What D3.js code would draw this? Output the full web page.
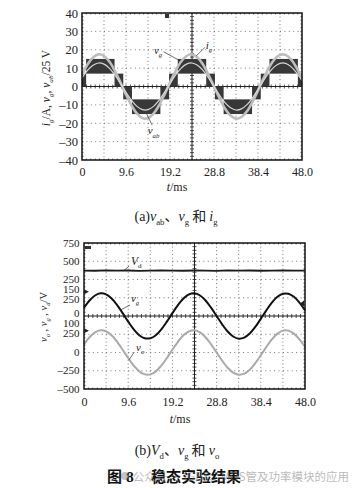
<!DOCTYPE html>
<html>
<head>
<meta charset="utf-8">
<script src="https://cdn.jsdelivr.net/npm/d3@7"></script>
<style>
  body { margin: 0; background: #fff; }
  svg { display: block; font-family: "Liberation Serif", "DejaVu Serif", serif; }
</style>
</head>
<body>
<div id="chart"></div>
<script>
const timeTicks = [0, 9.6, 19.2, 28.8, 38.4, 48.0];
const topYTicks = [40, 30, 20, 10, 0, -10, -20, -30, -40];

// sample step 1.2 ms, 0 .. 48 ms
const igVals = [6.4, 12.0, 15.8, 17.5, 16.6, 13.5, 8.4, 2.2, -4.4, -10.3, -14.8, -17.2, -17.2, -14.8, -10.3, -4.4, 2.2, 8.4, 13.5, 16.6, 17.5,
  15.8, 12.0, 6.4, 0, -6.4, -12.0, -15.8, -17.5, -16.6, -13.5, -8.4, -2.2, 4.4, 10.3, 14.8, 17.2, 17.2, 14.8, 10.3, 4.4];
const vgScaledVals = [4.7, 8.8, 11.6, 12.8, 12.2, 9.9, 6.2, 1.6, -3.2, -7.5, -10.8, -12.6, -12.6, -10.8, -7.5, -3.2, 1.6, 6.2, 9.9, 12.2, 12.8,
  11.6, 8.8, 4.7, 0, -4.7, -8.8, -11.6, -12.8, -12.2, -9.9, -6.2, -1.6, 3.2, 7.5, 10.8, 12.6, 12.6, 10.8, 7.5, 3.2];

// v_ab : switching bands (ms, and level range in the /25 V scale)
const vabStart = [0, 0.9, 7.1, 9.0, 10.9, 17.1, 19.0, 20.9, 27.1, 29.0, 30.9, 37.1, 39.0, 40.9, 47.1];
const vabEnd   = [0.9, 7.1, 9.0, 10.9, 17.1, 19.0, 20.9, 27.1, 29.0, 30.9, 37.1, 39.0, 40.9, 47.1, 48];
const vabLow   = [0, 7, 0, -7, -15, -7, 0, 7, 0, -7, -15, -7, 0, 7, 0];
const vabHigh  = [7, 15, 7, 0, -7, 0, 7, 15, 7, 0, -7, 0, 7, 15, 7];

// bottom scope: V (step 1.2 ms)
const vgVals = [114, 213, 281, 310, 296, 240, 150, 39, -77, -183, -263, -305, -305, -263, -183, -77, 39, 150, 240, 296, 310,
  281, 213, 114, 0, -114, -213, -281, -310, -296, -240, -150, -39, 77, 183, 263, 305, 305, 263, 183, 77];
const voVals = [112, 209, 276, 304, 290, 235, 147, 38, -76, -179, -258, -300, -300, -258, -179, -76, 38, 147, 235, 290, 304,
  276, 209, 112, 0, -112, -209, -276, -304, -290, -235, -147, -38, 76, 179, 258, 300, 300, 258, 179, 76];
// V_d, step 2.4 ms
const vdVals = [372, 370, 374, 371, 373, 369, 372, 375, 371, 370, 373, 372, 368, 374, 371, 373, 370, 372, 375, 371, 372];

const vdTicks = [750, 500, 250];
const vgTicks = [250, 0];
const voTicks = [250, 0, -250, -500];

const W = 358, H = 488;
const svg = d3.select('#chart').append('svg').attr('width', W).attr('height', H);

const fmt = d => d < 0 ? '\u2013' + Math.abs(d) : String(d);

// rich text helper: parts = [[text, flags]] with flags i=italic, s=subscript, c=cjk
function rich(parent, x, y, parts, size, anchor) {
  const t = parent.append('text').attr('x', x).attr('y', y)
    .attr('font-size', size).attr('text-anchor', anchor || 'start').attr('fill', '#222');
  let off = 0;
  parts.forEach(([txt, f]) => {
    const sub = f.includes('s');
    const target = sub ? size * 0.3 : 0;
    const ts = t.append('tspan').text(txt).attr('dy', target - off);
    off = target;
    if (f.includes('i')) ts.attr('font-style', 'italic');
    if (sub) ts.attr('font-size', size * 0.62);
    if (f.includes('c')) ts.attr('font-family', '"Noto Sans CJK SC", sans-serif');
  });
  return t;
}

// oscilloscope grid: 10 x 8 divisions, dotted, solid centre axes with small ticks
function scopeGrid(g, x0, x1, y0, y1) {
  const dx = (x1 - x0) / 10, dy = (y1 - y0) / 8;
  const cx = x0 + 5 * dx, cy = y0 + 4 * dy;
  for (let i = 1; i < 10; i++) {
    if (i === 5) continue;
    g.append('line').attr('x1', x0 + i * dx).attr('x2', x0 + i * dx).attr('y1', y0).attr('y2', y1)
      .attr('stroke', '#555').attr('stroke-width', 0.8).attr('stroke-dasharray', '1,' + (dy / 5 - 1).toFixed(2));
  }
  for (let j = 1; j < 8; j++) {
    if (j === 4) continue;
    g.append('line').attr('x1', x0).attr('x2', x1).attr('y1', y0 + j * dy).attr('y2', y0 + j * dy)
      .attr('stroke', '#555').attr('stroke-width', 0.8).attr('stroke-dasharray', '1,' + (dx / 5 - 1).toFixed(2));
  }
  g.append('line').attr('x1', x0).attr('x2', x1).attr('y1', cy).attr('y2', cy).attr('stroke', '#222').attr('stroke-width', 1);
  g.append('line').attr('x1', cx).attr('x2', cx).attr('y1', y0).attr('y2', y1).attr('stroke', '#222').attr('stroke-width', 1);
  for (let i = 1; i < 50; i++) {
    const x = x0 + i * dx / 5;
    g.append('line').attr('x1', x).attr('x2', x).attr('y1', cy - 2).attr('y2', cy + 2).attr('stroke', '#222').attr('stroke-width', 0.8);
    g.append('line').attr('x1', x).attr('x2', x).attr('y1', y0).attr('y2', y0 + 1.5).attr('stroke', '#222').attr('stroke-width', 0.7);
    g.append('line').attr('x1', x).attr('x2', x).attr('y1', y1 - 1.5).attr('y2', y1).attr('stroke', '#222').attr('stroke-width', 0.7);
  }
  for (let j = 1; j < 40; j++) {
    const y = y0 + j * dy / 5;
    g.append('line').attr('x1', cx - 2).attr('x2', cx + 2).attr('y1', y).attr('y2', y).attr('stroke', '#222').attr('stroke-width', 0.8);
    g.append('line').attr('x1', x0).attr('x2', x0 + 1.5).attr('y1', y).attr('y2', y).attr('stroke', '#222').attr('stroke-width', 0.7);
    g.append('line').attr('x1', x1 - 1.5).attr('x2', x1).attr('y1', y).attr('y2', y).attr('stroke', '#222').attr('stroke-width', 0.7);
  }
}

function frame(g, x0, x1, y0, y1) {
  g.append('rect').attr('x', x0).attr('y', y0).attr('width', x1 - x0).attr('height', y1 - y0)
    .attr('fill', 'none').attr('stroke', '#111').attr('stroke-width', 1.5);
}

function leader(g, p, q) {
  g.append('line').attr('x1', p[0]).attr('y1', p[1]).attr('x2', q[0]).attr('y2', q[1])
    .attr('stroke', '#333').attr('stroke-width', 0.7);
}

// ================= (a) =================
const xTop = d3.scaleLinear().domain([0, 48]).range([82, 302]);
const yTop = d3.scaleLinear().domain([-40, 40]).range([160, 13]);
const gA = svg.append('g');

scopeGrid(gA, 82, 302, 13, 160);

// v_ab bands
gA.append('g').selectAll('rect').data(vabStart).join('rect')
  .attr('x', (d, i) => xTop(d))
  .attr('width', (d, i) => xTop(vabEnd[i]) - xTop(d))
  .attr('y', (d, i) => yTop(vabHigh[i]))
  .attr('height', (d, i) => yTop(vabLow[i]) - yTop(vabHigh[i]))
  .attr('fill', '#383838');

const lineTop = vals => d3.line()
  .x((d, i) => xTop(i * 1.2)).y(d => yTop(d)).curve(d3.curveCatmullRom)(vals);

gA.append('path').attr('d', lineTop(igVals)).attr('fill', 'none').attr('stroke', '#bdbdbd').attr('stroke-width', 2.6);
gA.append('path').attr('d', lineTop(vgScaledVals)).attr('fill', 'none').attr('stroke', '#d6d6d6').attr('stroke-width', 1.2);

frame(gA, 82, 302, 13, 160);
gA.append('rect').attr('x', 165).attr('y', 14).attr('width', 4).attr('height', 4).attr('fill', '#333');

// y axis
const axA = gA.append('g').attr('transform', 'translate(82,0)')
  .call(d3.axisLeft(yTop).tickValues(topYTicks).tickSize(0).tickPadding(4).tickFormat(fmt));
axA.select('.domain').remove();
axA.selectAll('text').attr('font-family', '"Liberation Serif", serif').attr('font-size', 12.5).attr('fill', '#222');

// x axis
const axAx = gA.append('g').attr('transform', 'translate(0,160)')
  .call(d3.axisBottom(xTop).tickValues(timeTicks).tickSize(0).tickPadding(7).tickFormat(d => d === 0 ? '0' : d.toFixed(1)));
axAx.select('.domain').remove();
axAx.selectAll('text').attr('font-family', '"Liberation Serif", serif').attr('font-size', 12).attr('fill', '#222');

rich(gA, 177, 191, [['t', 'i'], ['/ms', '']], 12, 'middle');

const labA = gA.append('g').attr('transform', 'translate(50,88) rotate(-90)');
rich(labA, 0, 0, [['i', 'i'], ['g', 'si'], ['/A, ', ''], ['v', 'i'], ['g', 'si'], [', ', ''], ['v', 'i'], ['ab', 'si'], ['/25 V', '']], 11.5, 'middle');

// annotations
rich(gA, xTop(16.6), yTop(17.8), [['v', 'i'], ['g', 'si']], 11, 'middle');
leader(gA, [xTop(17.8), yTop(18.9)], [xTop(21.1), yTop(14.4)]);
rich(gA, xTop(27.7), yTop(20.5), [['i', 'i'], ['g', 'si']], 11, 'middle');
leader(gA, [xTop(26.8), yTop(21.2)], [xTop(24.9), yTop(16.6)]);
rich(gA, xTop(15.6), yTop(-26), [['v', 'i'], ['ab', 'si']], 11, 'middle');
leader(gA, [xTop(15.3), yTop(-21)], [xTop(14.0), yTop(-14.4)]);

rich(svg, 176, 221, [['(a)', ''], ['v', 'i'], ['ab', 's'], ['、', 'c'], ['v', 'i'], ['g', 's'], [' 和 ', 'c'], ['i', 'i'], ['g', 's']], 14, 'middle');

// ================= (b) =================
const x0B = 84, x1B = 305, y0B = 243, y1B = 389;
const xBot = d3.scaleLinear().domain([0, 48]).range([x0B, x1B]);
// three channels, 250 V/div, different ground positions
const yVd = d3.scaleLinear().domain([-1250, 750]).range([y1B, y0B]);
const yVg = d3.scaleLinear().domain([-1000, 1000]).range([y1B, y0B]);
const yVo = d3.scaleLinear().domain([-500, 1500]).range([y1B, y0B]);
const gB = svg.append('g');

scopeGrid(gB, x0B, x1B, y0B, y1B);

gB.append('path')
  .attr('d', d3.line().x((d, i) => xBot(i * 2.4)).y(d => yVd(d))(vdVals))
  .attr('fill', 'none').attr('stroke', '#1a1a1a').attr('stroke-width', 1.8);
gB.append('path')
  .attr('d', d3.line().x((d, i) => xBot(i * 1.2)).y(d => yVg(d)).curve(d3.curveCatmullRom)(vgVals))
  .attr('fill', 'none').attr('stroke', '#111').attr('stroke-width', 2);
gB.append('path')
  .attr('d', d3.line().x((d, i) => xBot(i * 1.2)).y(d => yVo(d)).curve(d3.curveCatmullRom)(voVals))
  .attr('fill', 'none').attr('stroke', '#a9a9a9').attr('stroke-width', 2);

frame(gB, x0B, x1B, y0B, y1B);

// channel markers
gB.append('rect').attr('x', x0B + 1).attr('y', y0B + 3).attr('width', 6).attr('height', 3).attr('fill', '#333');
[yVg(333), yVo(299)].forEach(y => {
  gB.append('path').attr('d', `M${x0B},${y - 2.5}L${x0B + 5},${y}L${x0B},${y + 2.5}Z`).attr('fill', '#222');
});
gB.append('path').attr('d', `M${x1B - 1},${yVg(170) - 3}L${x1B - 5},${yVg(170)}L${x1B - 1},${yVg(170) + 3}Z`).attr('fill', '#222');

// y tick labels (stacked, as on the scope print)
const tickStyle = s => s.attr('font-size', 11).attr('text-anchor', 'end').attr('fill', '#222');
const tickText = (y, txt) => gB.append('text').attr('x', 79.5).attr('y', y).attr('dy', '0.34em').text(txt).call(tickStyle);
vdTicks.forEach(v => tickText(yVd(v), fmt(v)));
vgTicks.forEach(v => tickText(yVg(v) + (v === 0 ? -2.5 : 1.5), fmt(v)));
voTicks.forEach(v => tickText(yVo(v) + (v === 250 ? -1 : 0), fmt(v)));
tickText(yVg(250) - 8, '150');
tickText(yVo(250) - 10.5, '100');

const axBx = gB.append('g').attr('transform', `translate(0,${y1B})`)
  .call(d3.axisBottom(xBot).tickValues(timeTicks).tickSize(0).tickPadding(8).tickFormat(d => d === 0 ? '0' : d.toFixed(1)));
axBx.select('.domain').remove();
axBx.selectAll('text').attr('font-family', '"Liberation Serif", serif').attr('font-size', 12).attr('fill', '#222');

rich(gB, 180, 423, [['t', 'i'], ['/ms', '']], 12, 'middle');

const labB = gB.append('g').attr('transform', 'translate(47,317) rotate(-90)');
rich(labB, 0, 0, [['v', 'i'], ['o', 'si'], [' , ', ''], ['v', 'i'], ['g', 'si'], [' , ', ''], ['v', 'i'], ['d', 'si'], ['/V', '']], 10.5, 'middle');

// annotations
rich(gB, xBot(10.2), yVd(449), [['V', 'i'], ['d', 's']], 11.5, 'start');
leader(gB, [xBot(9.8), yVd(435)], [xBot(8.6), yVd(368)]);
rich(gB, xBot(10.2), yVg(192), [['v', 'i'], ['g', 'si']], 11, 'start');
leader(gB, [xBot(10.0), yVg(150)], [xBot(8.0), yVg(85)]);
rich(gB, xBot(11.3), yVo(20), [['v', 'i'], ['o', 'si']], 11, 'start');
leader(gB, [xBot(10.9), yVo(5)], [xBot(9.8), yVo(-100)]);

rich(svg, 177, 455, [['(b)', ''], ['V', 'i'], ['d', 's'], ['、', 'c'], ['v', 'i'], ['g', 's'], [' 和 ', 'c'], ['v', 'i'], ['o', 's']], 14, 'middle');

// ================= figure title + watermark =================
svg.append('text').attr('x', 107).attr('y', 482).attr('font-size', 15).attr('font-weight', 'bold')
  .attr('font-family', '"Noto Sans CJK SC", sans-serif').attr('fill', '#111').text('图');
svg.append('text').attr('x', 126).attr('y', 482).attr('font-size', 15.5).attr('font-weight', 'bold')
  .attr('fill', '#111').text('8');
svg.append('text').attr('x', 151).attr('y', 482).attr('font-size', 15).attr('font-weight', 'bold')
  .attr('font-family', '"Noto Sans CJK SC", sans-serif').attr('fill', '#111').text('稳态实验结果');

const wm = svg.append('g').attr('opacity', 0.5);
wm.append('circle').attr('cx', 125).attr('cy', 476).attr('r', 4).attr('fill', '#888');
wm.append('text').attr('x', 349).attr('y', 481).attr('text-anchor', 'end').attr('font-size', 11.5)
  .attr('font-family', '"Noto Sans CJK SC", sans-serif').attr('fill', '#777')
  .text('公众号 · IGBT、MOS管及功率模块的应用');
</script>
</body>
</html>
